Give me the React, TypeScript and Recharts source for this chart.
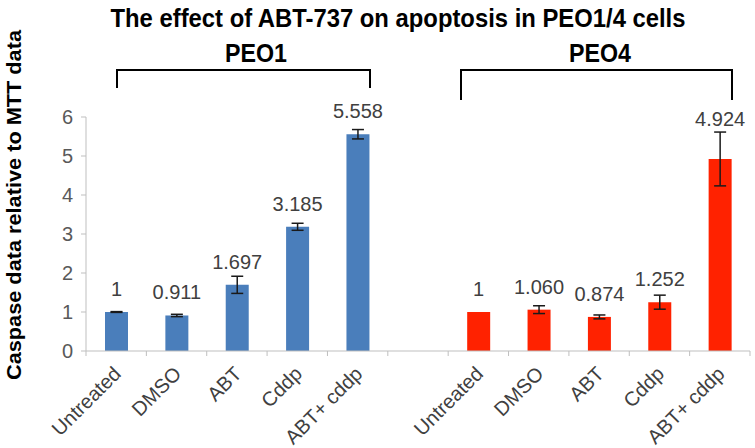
import { BarChart, Bar, XAxis, YAxis, ErrorBar, LabelList, Cell } from "recharts";

const treatments = ["Untreated", "DMSO", "ABT", "Cddp", "ABT+ cddp"];
const peo1Values = [1, 0.911, 1.697, 3.185, 5.558];
const peo1Errors = [0.01, 0.03, 0.22, 0.09, 0.12];
const peo1Labels = ["1", "0.911", "1.697", "3.185", "5.558"];
const peo4Values = [1, 1.06, 0.874, 1.252, 4.924];
const peo4Errors = [0, 0.1, 0.05, 0.18, 0.69];
const peo4Labels = ["1", "1.060", "0.874", "1.252", "4.924"];
const yTicks = [0, 1, 2, 3, 4, 5, 6];

const BLUE = "#4a7ebb";
const RED = "#ff2200";
const FONT = "'Liberation Sans', Arial, sans-serif";

const W = 755;
const H = 448;
const margin = { top: 117, right: 5, bottom: 67, left: 0 };
const yAxisWidth = 86;

type Row = {
  key: string;
  name: string;
  value: number | null;
  err?: number;
  label: string;
  color: string;
};

const rows: Row[] = [
  ...treatments.map((t, i) => ({
    key: `peo1-${i}`,
    name: t,
    value: peo1Values[i],
    err: peo1Errors[i],
    label: peo1Labels[i],
    color: BLUE,
  })),
  { key: "gap", name: "", value: null, label: "", color: "none" },
  ...treatments.map((t, i) => ({
    key: `peo4-${i}`,
    name: t,
    value: peo4Values[i],
    err: peo4Errors[i],
    label: peo4Labels[i],
    color: RED,
  })),
];

const plotWidth = W - margin.left - margin.right - yAxisWidth;
const slot = plotWidth / rows.length;

function ValueLabel(props: any) {
  const { x, y, width, height, value } = props;
  const row = rows.find((r) => r.key === value);
  if (!row || row.value == null) return null;
  const perUnit = height / row.value;
  const errTop = y - (row.err ?? 0) * perUnit;
  const baseline = Math.min(y - 16, errTop - 6);
  return (
    <text
      x={x + width / 2}
      y={baseline}
      textAnchor="middle"
      fontSize={20}
      fontFamily={FONT}
      fill="#404040"
    >
      {row.label}
    </text>
  );
}

function CategoryTick(props: any) {
  const { x, y, payload, index } = props;
  const isLast = index === rows.length - 1;
  const tx = x + 6;
  const ty = y + 24;
  return (
    <g>
      <line x1={x - slot / 2} x2={x - slot / 2} y1={y} y2={y + 5} stroke="#bfbfbf" />
      {isLast && (
        <line x1={x + slot / 2} x2={x + slot / 2} y1={y} y2={y + 5} stroke="#bfbfbf" />
      )}
      <text
        x={tx}
        y={ty}
        transform={`rotate(-45 ${tx} ${ty})`}
        textAnchor="end"
        fontSize={20}
        fontFamily={FONT}
        fill="#404040"
      >
        {payload.value}
      </text>
    </g>
  );
}

export default function App() {
  return (
    <div
      style={{
        position: "absolute",
        left: 0,
        top: 0,
        width: W,
        height: H,
        background: "#fff",
        fontFamily: FONT,
      }}
    >
      <BarChart width={W} height={H} data={rows} margin={margin} barSize={23}>
        <XAxis
          dataKey="name"
          interval={0}
          tickLine={false}
          tickSize={0}
          tickMargin={0}
          stroke="#bfbfbf"
          tick={<CategoryTick />}
        />
        <YAxis
          width={yAxisWidth}
          domain={[0, 6]}
          ticks={yTicks}
          interval={0}
          tickSize={5}
          tickMargin={8}
          stroke="#bfbfbf"
          tick={{ fill: "#595959", fontSize: 20, fontFamily: FONT }}
        />
        <Bar dataKey="value" isAnimationActive={false}>
          {rows.map((r) => (
            <Cell key={r.key} fill={r.color} />
          ))}
          <ErrorBar dataKey="err" width={6} stroke="#1a1a1a" strokeWidth={1.5} direction="y" />
          <LabelList dataKey="key" content={<ValueLabel />} />
        </Bar>
      </BarChart>
      <svg
        width={W}
        height={H}
        style={{ position: "absolute", left: 0, top: 0, pointerEvents: "none" }}
      >
        <text
          x={398}
          y={27}
          textAnchor="middle"
          fontSize={26}
          fontWeight="bold"
          fontFamily={FONT}
          textLength={575}
          lengthAdjust="spacingAndGlyphs"
          fill="#000"
        >
          The effect of ABT-737 on apoptosis in PEO1/4 cells
        </text>
        <text
          x={256}
          y={62}
          textAnchor="middle"
          fontSize={26}
          fontWeight="bold"
          fontFamily={FONT}
          textLength={62}
          lengthAdjust="spacingAndGlyphs"
        >
          PEO1
        </text>
        <text
          x={600}
          y={62}
          textAnchor="middle"
          fontSize={26}
          fontWeight="bold"
          fontFamily={FONT}
          textLength={62}
          lengthAdjust="spacingAndGlyphs"
        >
          PEO4
        </text>
        <path d="M117 88 V70 H370 V88" fill="none" stroke="#000" strokeWidth={2} />
        <path d="M461 100 V70 H732 V100" fill="none" stroke="#000" strokeWidth={2} />
        <text
          x={0}
          y={0}
          transform="translate(21 205) rotate(-90)"
          textAnchor="middle"
          fontSize={20}
          fontWeight="bold"
          fontFamily={FONT}
          textLength={350}
          lengthAdjust="spacingAndGlyphs"
          fill="#000"
        >
          Caspase data relative to MTT data
        </text>
      </svg>
    </div>
  );
}
